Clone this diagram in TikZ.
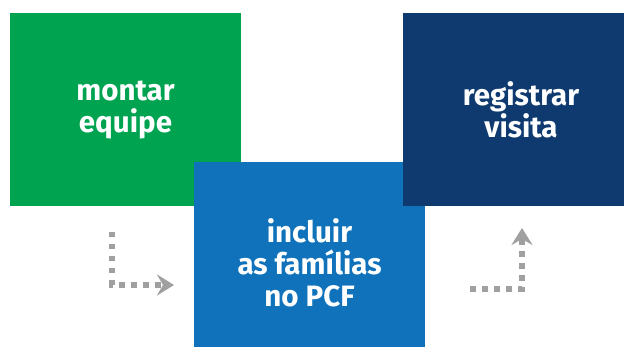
\documentclass[tikz,border=0pt]{standalone}
\usepackage{fontspec}
\setmainfont{Fira Sans}
\usetikzlibrary{arrows.meta}
\definecolor{verde}{HTML}{00A350}
\definecolor{azul}{HTML}{0F72BA}
\definecolor{marinho}{HTML}{0E3A6F}
\definecolor{cinza}{HTML}{A0A0A0}
\tikzset{
  caixa/.style={minimum width=231pt, minimum height=193pt, inner sep=0pt, text=white,
    align=center, font=\fontsize{29.5}{32}\selectfont\bfseries},
  pontos/.style={draw=cinza, line width=5.5pt, dash pattern=on 5.5pt off 6.5pt,
    -{Stealth[length=17pt,width=21pt,inset=6pt]}}
}
\begin{document}
\begin{tikzpicture}[x=1pt,y=-1pt]
        \useasboundingbox (0,0) rectangle (624,347);
        % 三个方块
        \node[caixa, fill=verde] (equipe) at (125.5,109.5) {montar\\equipe};
        \node[caixa, fill=azul, minimum height=202pt] (familias) at (309.5,263) {incluir\\as famílias\\no PCF};
        \node[caixa, fill=marinho, minimum width=236pt] (visita) at (521,109.5) {registrar\\visita};
        \coordinate (p1) at (112,232);
        \coordinate (p2) at (174,285);
        \coordinate (q1) at (470,289);
        \coordinate (q2) at (522,228);
        \draw[pontos] (p1) |- (p2);
        \draw[pontos] (q1) -| (q2);
    \end{tikzpicture}
\end{document}
